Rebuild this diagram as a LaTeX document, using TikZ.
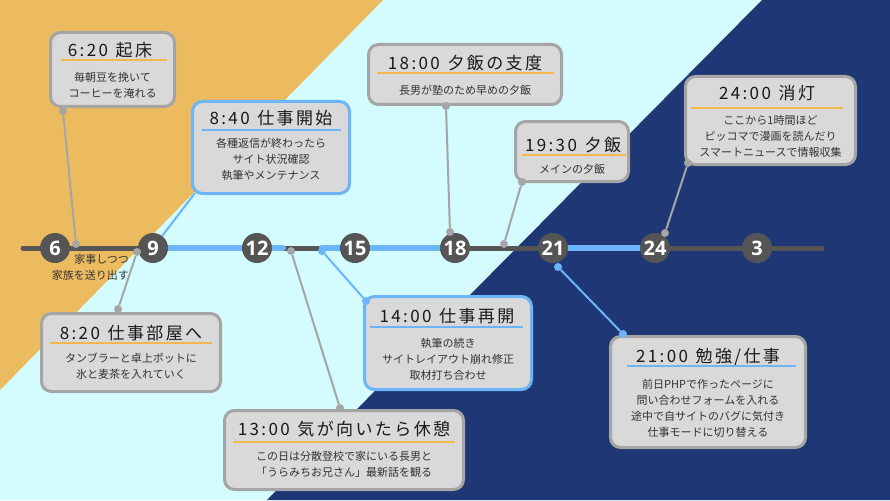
\documentclass[tikz,border=0pt]{standalone}
\usepackage{fontspec}
\setmainfont{Noto Sans CJK JP}
\newfontfamily\ttlfont[LetterSpace=14]{Noto Sans CJK JP}
\newfontfamily\numfont{Open Sans}
\definecolor{sky}{HTML}{D4FBFD}
\definecolor{orng}{HTML}{EDBB5F}
\definecolor{navy}{HTML}{203775}
\definecolor{boxfill}{HTML}{D9D9D9}
\definecolor{boxline}{HTML}{A5A5A5}
\definecolor{bluel}{HTML}{6DB5F9}
\definecolor{axisgray}{HTML}{555555}
\definecolor{txt}{HTML}{333333}
\definecolor{uorange}{HTML}{F2B94C}

\begin{document}
\begin{tikzpicture}[x=1pt,y=-1pt,
 box/.style={draw=boxline,fill=boxfill,line width=3pt,rounded corners=10pt,inner sep=0pt},
 bbox/.style={box,draw=bluel},
 ttl/.style={inner sep=0pt,font=\ttlfont\fontsize{17}{19}\selectfont,text=black!90},
 body/.style={inner sep=0pt,align=center,font=\fontsize{11}{16}\selectfont,text=txt},
 hour/.style={circle,fill=axisgray,minimum size=30pt,inner sep=0pt,text=white,font=\numfont\bfseries\fontsize{20}{20}\selectfont},
 dot/.style={circle,fill=boxline,minimum size=8pt,inner sep=0pt},
 bdot/.style={dot,fill=bluel},
 conn/.style={draw=boxline,line width=2pt},
 bconn/.style={draw=bluel,line width=2pt},
 oline/.style={draw=uorange,line width=2pt},
 bline/.style={draw=bluel,line width=2pt}]
% background
\fill[sky] (0,0) rectangle (890,500);
\fill[orng] (0,0) -- (383,0) -- (0,390) -- cycle;
\fill[navy] (762,0) -- (890,0) -- (890,500) -- (267,500) -- cycle;
\useasboundingbox (0,0) rectangle (890,500);

% time axis
\foreach \h/\x in {6/55,9/153,12/257,15/355,18/455,21/553,24/655,3/757}
  \coordinate (p\h) at (\x,248);
\draw[axisgray,line width=5pt,line cap=round] (23,248) -- (822,248);
\draw[bluel,line width=6pt,line cap=round] (p9) -- (283,248);
\draw[bluel,line width=6pt,line cap=round] (322,248) -- (p18);
\draw[bluel,line width=6pt] (p21) -- (p24);
\foreach \h in {6,9,12,15,18,21,24,3}
  \node[hour] (h\h) at (p\h) {\h};
\node[body,anchor=east,align=right] (kaji) at (129,267) {家事しつつ\\家族を送り出す};

% 6:20
\node[box,minimum width=124pt,minimum height=74pt] (b620) at (112.5,69.5) {};
\node[ttl] (t620) at (110,50) {6:20\hspace{0.45em}起床};
\draw[oline] (61,60) -- (167,60);
\node[body] (x620) at (112.5,85) {毎朝豆を挽いて\\コーヒーを淹れる};

% 8:40
\node[bbox,minimum width=157pt,minimum height=92pt] (b840) at (271,147.5) {};
\node[ttl] (t840) at (271,118) {8:40\hspace{0.45em}仕事開始};
\draw[bline] (202,130) -- (341,130);
\node[body] (x840) at (271,159.5) {各種返信が終わったら\\サイト状況確認\\執筆やメンテナンス};

% 8:20
\node[box,minimum width=179pt,minimum height=78pt] (b820) at (131,352.5) {};
\node[ttl] (t820) at (131,333) {8:20\hspace{0.45em}仕事部屋へ};
\draw[oline] (50,343) -- (212,343);
\node[body] (x820) at (131,366) {タンブラーと卓上ポットに\\氷と麦茶を入れていく};

% 13:00
\node[box,minimum width=239pt,minimum height=79pt] (b1300) at (344,450) {};
\node[ttl] (t1300) at (344,429) {13:00\hspace{0.45em}気が向いたら休憩};
\draw[oline] (233,442) -- (455,442);
\node[body] (x1300) at (344,464) {この日は分散登校で家にいる長男と\\「うらみちお兄さん」最新話を観る};

% 14:00
\node[bbox,minimum width=167pt,minimum height=93pt] (b1400) at (448,343) {};
\node[ttl] (t1400) at (447,316) {14:00\hspace{0.45em}仕事再開};
\draw[bline] (370,327) -- (523,327);
\node[body] (x1400) at (448,359.5) {執筆の続き\\サイトレイアウト崩れ修正\\取材打ち合わせ};

% 18:00
\node[box,minimum width=193pt,minimum height=60pt] (b1800) at (465,74.5) {};
\node[ttl] (t1800) at (465,63) {18:00\hspace{0.45em}夕飯の支度};
\draw[oline] (377,73) -- (554,73);
\node[body] (x1800) at (465,90) {長男が塾のため早めの夕飯};

% 19:30
\node[box,minimum width=113pt,minimum height=60pt] (b1930) at (572,151.5) {};
\node[ttl] (t1930) at (573,145) {19:30\hspace{0.45em}夕飯};
\draw[oline] (522,155) -- (626,155);
\node[body] (x1930) at (572,169) {メインの夕飯};

% 21:00
\node[box,minimum width=195pt,minimum height=111pt] (b2100) at (708,392) {};
\node[ttl] (t2100) at (708,357) {21:00\hspace{0.45em}勉強/仕事};
\draw[bline] (627,366) -- (796,366);
\node[body] (x2100) at (708,408.5) {前日PHPで作ったページに\\問い合わせフォームを入れる\\途中で自サイトのバグに気付き\\仕事モードに切り替える};

% 24:00
\node[box,minimum width=170pt,minimum height=88pt] (b2400) at (770.5,120.5) {};
\node[ttl] (t2400) at (767,93) {24:00\hspace{0.45em}消灯};
\draw[oline] (691,108) -- (843,108);
\node[body] (x2400) at (770.5,136) {ここから1時間ほど\\ピッコマで漫画を読んだり\\スマートニュースで情報収集};

% connector dots
\node[dot] (d620a) at (76,244) {};
\node[dot] (d620b) at (63,111) {};
\node[dot] (d820a) at (137,252) {};
\node[dot] (d820b) at (118,309) {};
\node[dot] (d1300a) at (291,251) {};
\node[dot] (d1300b) at (340,408) {};
\node[bdot] (d1400a) at (322,251) {};
\node[bdot] (d1400b) at (366,301) {};
\node[dot] (d1800a) at (450,232) {};
\node[dot] (d1800b) at (446,106) {};
\node[dot] (d1930a) at (504,244) {};
\node[dot] (d1930b) at (522,182) {};
\node[bdot] (d2100a) at (558,267) {};
\node[bdot] (d2100b) at (623,334) {};
\node[dot] (d2400a) at (665,233) {};
\node[dot] (d2400b) at (688,163) {};
\coordinate (c840) at (195,193);

% connectors
\draw[conn] (d620b) -- (d620a);
\draw[conn] (d820b) -- (d820a);
\draw[bconn] (c840) -- (h9);
\draw[conn] (d1300b) -- (d1300a);
\draw[bconn] (d1400b) -- (d1400a);
\draw[conn] (d1800b) -- (d1800a);
\draw[conn] (d1930b) -- (d1930a);
\draw[bconn] (d2100b) -- (d2100a);
\draw[conn] (d2400b) -- (d2400a);
\end{tikzpicture}
\end{document}
